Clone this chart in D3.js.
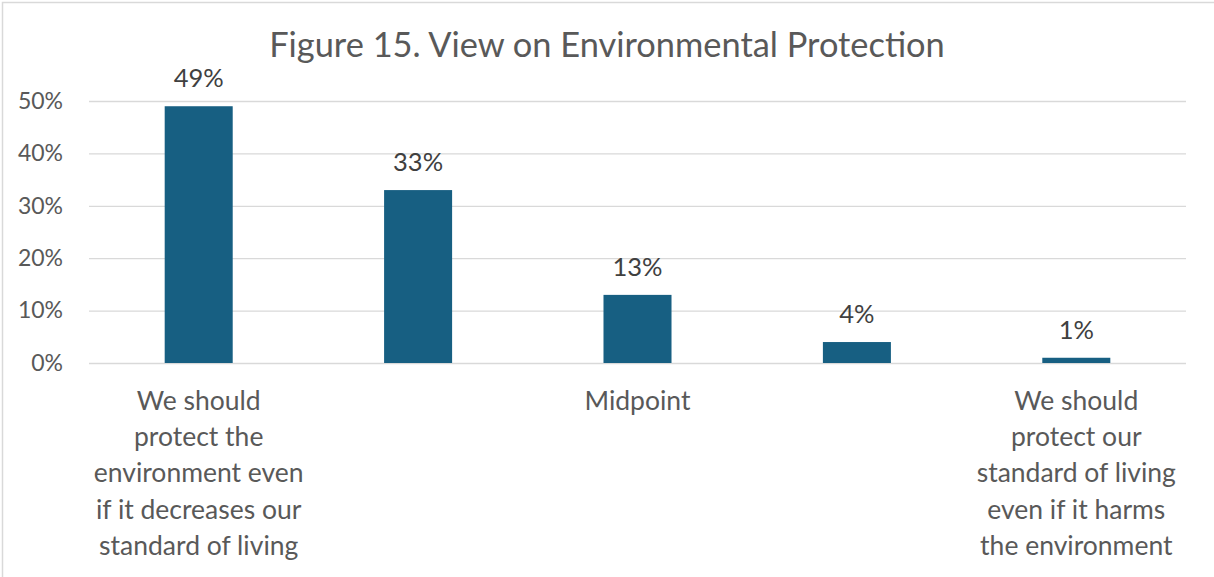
<!DOCTYPE html>
<html>
<head>
<meta charset="utf-8">
<script src="https://cdn.jsdelivr.net/npm/d3@7"></script>
<style>
  html, body { margin: 0; padding: 0; background: #fff; }
  svg { display: block; font-family: Lato, "Open Sans", sans-serif; }
</style>
</head>
<body>
<svg id="chart" width="1214" height="577"></svg>
<script>
const title = "Figure 15. View on Environmental Protection";
const categories = ["c1", "c2", "c3", "c4", "c5"];
const categoryLabels = [
  ["We should", "protect the", "environment even", "if it decreases our", "standard of living"],
  [],
  ["Midpoint"],
  [],
  ["We should", "protect our", "standard of living", "even if it harms", "the environment"]
];
const values = [0.49, 0.33, 0.13, 0.04, 0.01];
const yTicks = [0, 0.1, 0.2, 0.3, 0.4, 0.5];

const svg = d3.select("#chart");
const W = 1214, H = 577;
const margin = { top: 101, right: 28, bottom: 214, left: 89 };
const innerW = W - margin.left - margin.right;
const innerH = H - margin.top - margin.bottom;
const textColor = "#595959";

// outer chart frame
svg.append("rect")
  .attr("x", 2.5).attr("y", 2.5)
  .attr("width", W + 10).attr("height", H + 10)
  .attr("fill", "none").attr("stroke", "#d9d9d9").attr("stroke-width", 1.5);

const g = svg.append("g").attr("transform", `translate(${margin.left},${margin.top})`);

const x = d3.scaleBand().domain(categories).range([0, innerW]).paddingInner(0.69).paddingOuter(0.345);
const y = d3.scaleLinear().domain([0, 0.5]).range([innerH, 0]);

// gridlines
g.append("g")
  .call(d3.axisLeft(y).tickValues(yTicks).tickSize(-innerW).tickFormat(""))
  .call(a => a.select(".domain").remove())
  .call(a => a.selectAll("line").attr("stroke", "#d9d9d9").attr("stroke-width", 1.3));

// y tick labels
g.append("g")
  .call(d3.axisLeft(y).tickValues(yTicks).tickSize(0).tickPadding(26).tickFormat(d3.format(".0%")))
  .call(a => a.select(".domain").remove())
  .call(a => a.selectAll("text")
    .attr("fill", textColor).style("font-size", "23px")
    .style("font-family", "Lato, sans-serif"));

// bars
g.selectAll("rect.bar")
  .data(values)
  .join("rect")
  .attr("class", "bar")
  .attr("x", (d, i) => x(categories[i]))
  .attr("y", d => y(d))
  .attr("width", x.bandwidth())
  .attr("height", d => innerH - y(d))
  .attr("fill", "#175f82");

// value labels
g.selectAll("text.val")
  .data(values)
  .join("text")
  .attr("class", "val")
  .attr("x", (d, i) => x(categories[i]) + x.bandwidth() / 2)
  .attr("y", d => y(d) - 19)
  .attr("text-anchor", "middle")
  .attr("fill", "#404040")
  .style("font-size", "25.5px")
  .text(d => d3.format(".0%")(d));

// category labels (multi-line)
const catG = g.selectAll("text.cat")
  .data(categoryLabels)
  .join("text")
  .attr("class", "cat")
  .attr("text-anchor", "middle")
  .attr("fill", textColor)
  .style("font-size", "26.5px");
catG.each(function (lines, i) {
  const cx = x(categories[i]) + x.bandwidth() / 2;
  d3.select(this).selectAll("tspan")
    .data(lines)
    .join("tspan")
    .attr("x", cx)
    .attr("y", (d, k) => innerH + 47 + k * 36.2)
    .text(d => d);
});

// title
svg.append("text")
  .attr("x", 607).attr("y", 57)
  .attr("text-anchor", "middle")
  .attr("fill", textColor)
  .style("font-size", "34.4px")
  .text(title);
</script>
</body>
</html>
